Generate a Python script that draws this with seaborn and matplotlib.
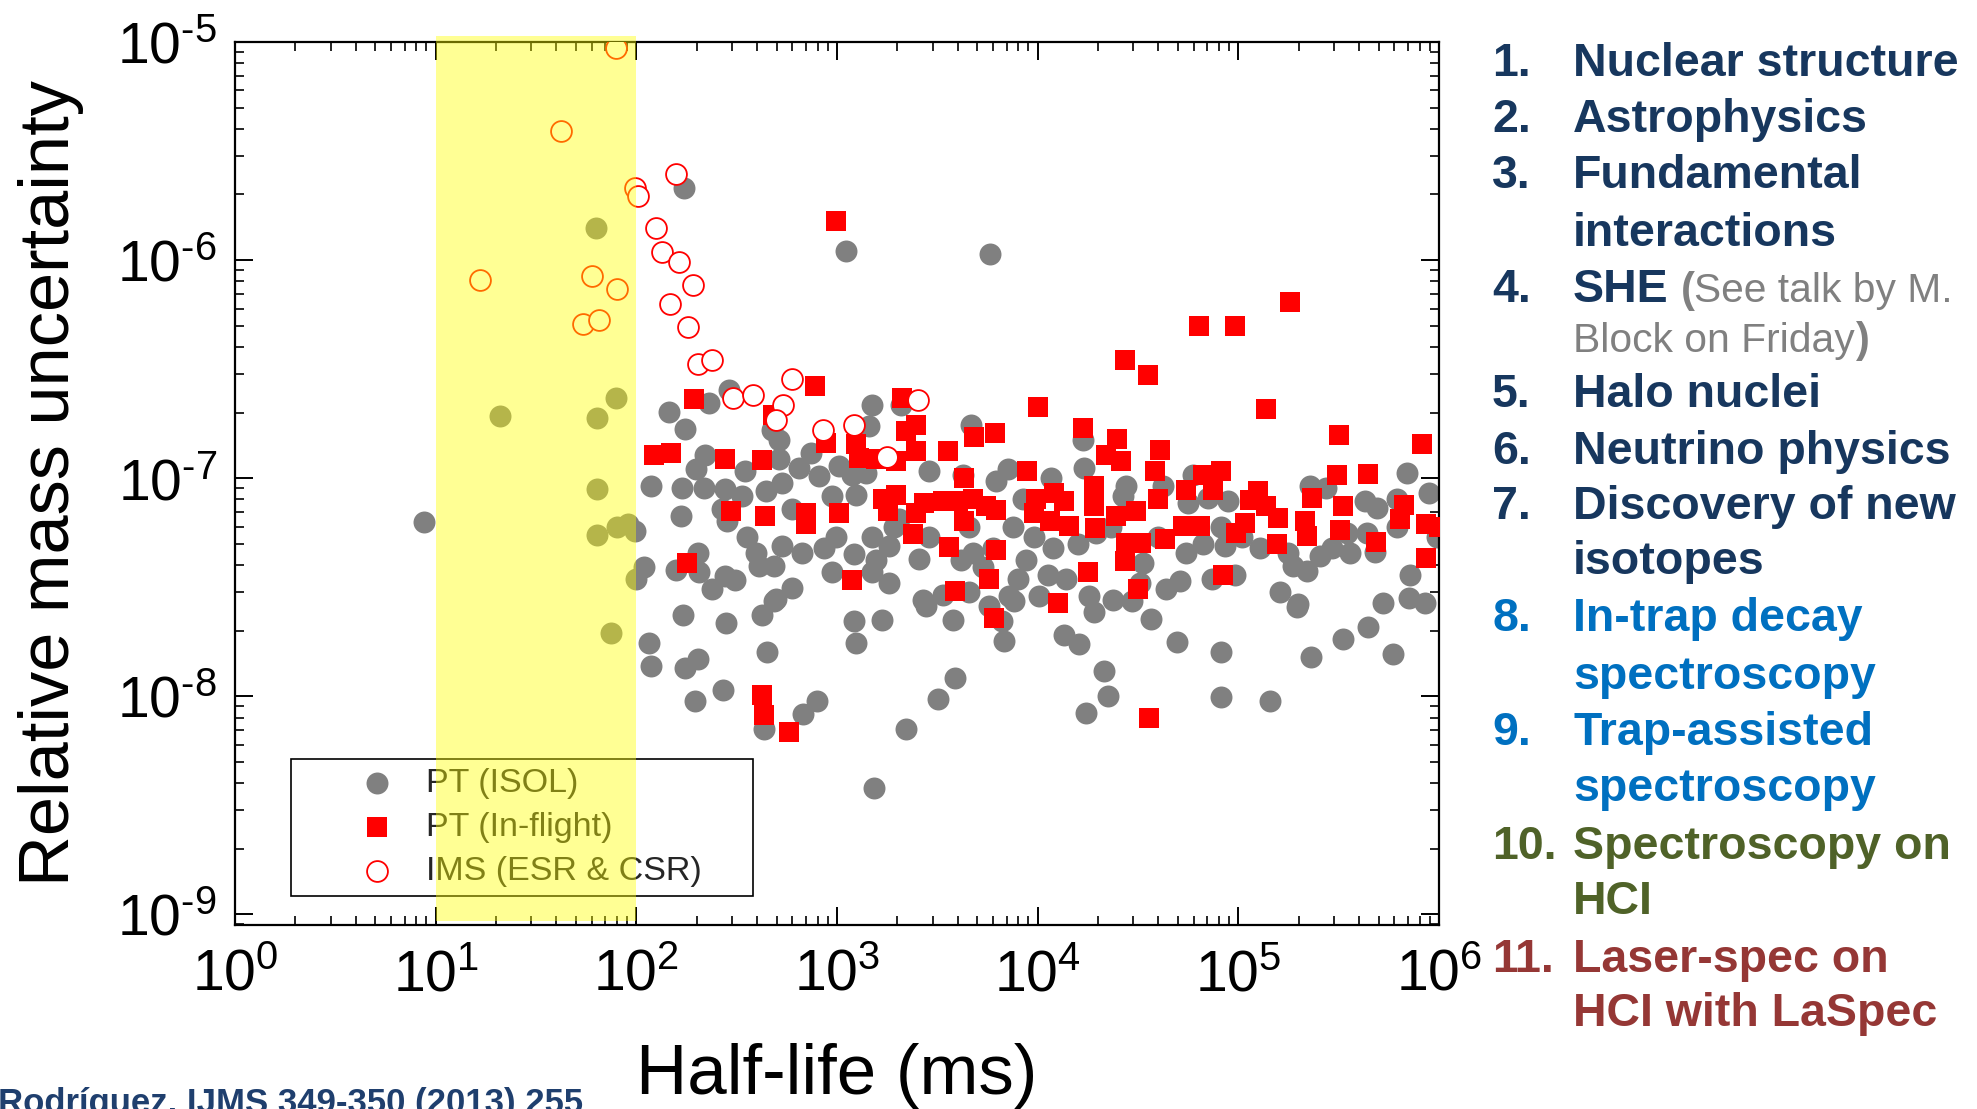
import numpy as np
import pandas as pd
import matplotlib
matplotlib.use("Agg")
import matplotlib.pyplot as plt
import matplotlib.ticker as mticker
import seaborn as sns

# ---- data (half-life in ms, relative mass uncertainty) ----
isol_halflife_ms = [
    8.7, 21, 63, 79, 64, 64, 91, 80, 98, 64, 75, 173, 1110, 5800,
    145, 174, 230, 289, 1500, 1450, 476, 514, 219, 199, 118, 169, 217, 347,
    514, 647, 740, 813, 1020, 1190, 1390, 278, 337, 441, 533, 268, 284, 167,
    598, 948, 1240, 1500, 357, 393, 533, 671, 861, 986, 1220, 1560, 109, 100,
    157, 202, 205, 239, 278, 312, 408, 485, 598, 948, 1500, 1820, 494, 1820,
    1930, 170, 116, 119, 175, 202, 197, 269, 280, 421, 447, 488, 432, 678,
    798, 1220, 1250, 1680, 1530, 2200,
    2080, 4660, 16800, 17100, 2880, 4230, 6190, 7100, 11700, 8430, 27600, 2040,
    2880, 2570, 4560, 4740, 4150, 5320, 5970, 7520, 9640, 11900, 8750, 7960,
    11200, 13900, 15800, 19600, 23300, 26600, 33500, 39800, 32200, 43800,
    18100, 23700, 2670, 3360, 4560, 7230, 10200,
    6.9e5, 8.87e5, 2.28e5, 2.75e5, 4.28e5, 4.89e5, 6.21e5, 6.15e5, 4.37e5,
    3.47e5, 3.61e5, 4.8e5, 2.92e5, 2.55e5, 2.19e5, 1.88e5, 1.77e5, 1.28e5,
    1.04e5, 8.55e4, 8.24e4, 6.67e4, 5.61e4, 5.94e4, 7.06e4, 8.89e4, 4.22e4,
    5.51e4, 5.11e4, 7.35e4, 9.6e4, 1.61e5, 1.99e5, 7.18e5, 7.05e5, 8.53e5,
    5.28e5,
    2770, 3770, 5740, 6620, 6820, 7660, 13600, 16000, 19000, 29600, 36800,
    49500, 3870, 3200, 21500, 22500, 17500,
    8.24e4, 8.18e4, 1.44e5, 1.97e5, 2.30e5, 3.31e5, 4.41e5, 5.89e5, 9.8e5,
]
isol_uncertainty = [
    6.3e-8, 1.92e-7, 1.41e-6, 2.33e-7, 1.89e-7, 8.9e-8, 6.2e-8, 6.0e-8, 5.7e-8, 5.5e-8, 1.95e-8, 2.15e-6, 1.10e-6, 1.07e-6,
    2.01e-7, 1.69e-7, 2.21e-7, 2.55e-7, 2.17e-7, 1.73e-7, 1.67e-7, 1.50e-7, 1.28e-7, 1.10e-7, 9.25e-8, 9.0e-8, 9.0e-8, 1.08e-7,
    1.22e-7, 1.11e-7, 1.31e-7, 1.02e-7, 1.14e-7, 1.04e-7, 1.06e-7, 8.9e-8, 8.3e-8, 8.7e-8, 9.5e-8, 7.2e-8, 6.35e-8, 6.7e-8,
    7.2e-8, 8.3e-8, 8.4e-8, 5.4e-8, 5.4e-8, 4.55e-8, 4.9e-8, 4.55e-8, 4.8e-8, 5.4e-8, 4.5e-8, 4.2e-8, 3.9e-8, 3.45e-8,
    3.8e-8, 4.55e-8, 3.7e-8, 3.1e-8, 3.56e-8, 3.4e-8, 3.96e-8, 3.96e-8, 3.15e-8, 3.7e-8, 3.7e-8, 3.3e-8, 2.8e-8, 4.9e-8,
    6.0e-8, 2.35e-8, 1.76e-8, 1.38e-8, 1.35e-8, 1.48e-8, 9.5e-9, 1.07e-8, 2.17e-8, 2.35e-8, 1.6e-8, 2.73e-8, 7.1e-9, 8.3e-9,
    9.5e-9, 2.21e-8, 1.76e-8, 2.25e-8, 3.8e-9, 7.05e-9,
    2.17e-7, 1.76e-7, 1.50e-7, 1.11e-7, 1.08e-7, 1.04e-7, 9.7e-8, 1.10e-7, 1.00e-7, 8.0e-8, 9.2e-8, 6.5e-8,
    5.4e-8, 4.25e-8, 6.0e-8, 4.55e-8, 4.2e-8, 3.9e-8, 4.8e-8, 6.0e-8, 5.4e-8, 4.8e-8, 4.2e-8, 3.44e-8,
    3.6e-8, 3.44e-8, 5.0e-8, 5.6e-8, 6.0e-8, 8.3e-8, 4.1e-8, 5.4e-8, 3.3e-8, 3.1e-8,
    2.88e-8, 2.78e-8, 2.78e-8, 2.93e-8, 3.0e-8, 2.88e-8, 2.88e-8,
    1.06e-7, 8.6e-8, 9.2e-8, 9.0e-8, 7.85e-8, 7.3e-8, 8.0e-8, 6.0e-8, 5.6e-8,
    5.6e-8, 4.55e-8, 4.6e-8, 4.8e-8, 4.4e-8, 3.75e-8, 3.96e-8, 4.55e-8, 4.8e-8,
    5.4e-8, 4.9e-8, 6.0e-8, 5.0e-8, 7.7e-8, 1.04e-7, 8.1e-8, 7.85e-8, 9.2e-8,
    4.55e-8, 3.37e-8, 3.44e-8, 3.6e-8, 3.0e-8, 2.64e-8, 3.6e-8, 2.83e-8, 2.69e-8,
    2.69e-8,
    2.59e-8, 2.25e-8, 2.59e-8, 2.21e-8, 1.79e-8, 2.73e-8, 1.92e-8, 1.74e-8, 2.44e-8, 2.73e-8, 2.27e-8,
    1.78e-8, 1.21e-8, 9.7e-9, 1.31e-8, 1.0e-8, 8.4e-9,
    1.6e-8, 9.9e-9, 9.5e-9, 2.56e-8, 1.51e-8, 1.84e-8, 2.07e-8, 1.57e-8, 5.4e-8,
]

inflight_halflife_ms = [
    994, 1.81e5, 6.35e4, 9.6e4, 2.71e4, 3.56e4, 780, 1.0e4, 1.38e5, 3.17e5,
    8.2e5, 1.69e4, 2.49e4, 4.08e4, 6100, 4800, 2480, 2120, 3570, 8800,
    193, 122, 149, 278, 425, 482, 885, 1250, 1290, 1560,
    1690, 1790, 298, 437, 698, 698, 1023, 179, 1194,
    2200, 2470, 1960, 4310, 1960, 2720, 3360, 3990, 4740, 5530,
    6210, 2470, 4310, 2400, 3600, 6210, 5740, 3880, 9820, 12100,
    13600, 9640, 11500, 14400, 19000, 19000, 19200, 24700, 31000, 39800,
    27600, 32800, 27100, 17800, 31600, 12600, 43000, 22000, 26100, 38300,
    6.67e4, 8.24e4, 5.51e4, 7.48e4, 1.26e5, 1.14e5, 1.38e5, 1.58e5, 1.08e5, 9.79e4,
    5.30e4, 6.43e4, 1.55e5, 2.15e5, 2.19e5, 2.32e5, 3.09e5, 4.42e5, 3.31e5, 3.21e5,
    4.85e5, 6.73e5, 6.40e5, 8.59e5, 8.59e5, 1.0e6, 8.39e4,
    421, 432, 575, 6080, 35900,
]
inflight_uncertainty = [
    1.51e-6, 6.4e-7, 5.0e-7, 5.0e-7, 3.5e-7, 2.96e-7, 2.64e-7, 2.13e-7, 2.08e-7, 1.58e-7,
    1.43e-7, 1.70e-7, 1.51e-7, 1.35e-7, 1.62e-7, 1.54e-7, 1.76e-7, 2.33e-7, 1.33e-7, 1.08e-7,
    2.32e-7, 1.28e-7, 1.31e-7, 1.23e-7, 1.21e-7, 1.94e-7, 1.45e-7, 1.43e-7, 1.24e-7, 1.22e-7,
    8.0e-8, 7.06e-8, 7.06e-8, 6.74e-8, 6.94e-8, 6.14e-8, 6.94e-8, 4.09e-8, 3.43e-8,
    1.64e-7, 1.33e-7, 1.20e-7, 1.00e-7, 8.4e-8, 7.7e-8, 7.85e-8, 7.85e-8, 8.0e-8, 7.44e-8,
    7.18e-8, 6.94e-8, 6.35e-8, 5.58e-8, 4.84e-8, 4.71e-8, 3.44e-8, 3.03e-8, 8.0e-8, 8.57e-8,
    7.85e-8, 6.94e-8, 6.35e-8, 6.03e-8, 9.2e-8, 7.44e-8, 5.93e-8, 6.7e-8, 7.06e-8, 8.0e-8,
    5.06e-8, 5.06e-8, 4.17e-8, 3.71e-8, 3.09e-8, 2.69e-8, 5.24e-8, 1.28e-7, 1.20e-7, 1.08e-7,
    1.04e-7, 1.08e-7, 8.87e-8, 8.87e-8, 8.71e-8, 7.98e-8, 7.44e-8, 6.58e-8, 6.24e-8, 5.62e-8,
    6.03e-8, 6.03e-8, 4.97e-8, 6.35e-8, 5.42e-8, 8.13e-8, 1.03e-7, 1.05e-7, 7.44e-8, 5.82e-8,
    5.11e-8, 7.5e-8, 6.47e-8, 6.14e-8, 4.32e-8, 6.0e-8, 3.62e-8,
    1.01e-8, 8.2e-9, 6.9e-9, 2.29e-8, 7.93e-9,
]

ims_halflife_ms = [
    79, 42, 157, 99, 102, 126, 135, 164, 16.7, 60, 80, 148, 191, 54.5,
    65, 180, 203, 237, 304, 381, 540, 494, 855, 1216, 1770, 594, 2520,
]
ims_uncertainty = [
    9.4e-6, 3.9e-6, 2.49e-6, 2.15e-6, 1.96e-6, 1.41e-6, 1.09e-6, 9.8e-7, 8.1e-7, 8.5e-7, 7.4e-7, 6.3e-7, 7.7e-7, 5.1e-7,
    5.3e-7, 4.95e-7, 3.35e-7, 3.47e-7, 2.33e-7, 2.42e-7, 2.17e-7, 1.85e-7, 1.67e-7, 1.76e-7, 1.25e-7, 2.85e-7, 2.29e-7,
]

series_labels = ["PT (ISOL)", "PT (In-flight)", "IMS (ESR & CSR)"]

topic_numbers = ["1.", "2.", "3.", "", "4.", "", "5.", "6.", "7.", "",
                 "8.", "", "9.", "", "10.", "", "11.", ""]
topic_lines = ["Nuclear structure", "Astrophysics", "Fundamental", "interactions",
               "SHE", "", "Halo nuclei", "Neutrino physics", "Discovery of new",
               "isotopes", "In-trap decay", "spectroscopy", "Trap-assisted",
               "spectroscopy", "Spectroscopy on", "HCI", "Laser-spec on",
               "HCI with LaSpec"]
NAVY, BLUE, GREEN, BROWN, GREY = "#17375E", "#0070C0", "#4F6228", "#953735", "#808080"
topic_colors = [NAVY] * 10 + [BLUE] * 4 + [GREEN] * 2 + [BROWN] * 2
citation = "Rodríguez, IJMS 349-350 (2013) 255"

W, H = 1977, 1109


def fx(px):
    return px / W


def fy(py):
    return 1 - py / H


def decade_label(v, pos):
    e = int(round(np.log10(v)))
    if e < 0:
        return r"$\mathregular{10^{\text{-}%d}}$" % (-e)
    return r"$\mathregular{10^{%d}}$" % e


sns.set_theme(style="ticks")
plt.rcParams['font.family'] = ['Liberation Sans', 'DejaVu Sans']
plt.rcParams['mathtext.fontset'] = 'custom'
plt.rcParams['mathtext.rm'] = 'Liberation Sans'
plt.rcParams['mathtext.it'] = 'Liberation Sans:italic'
plt.rcParams['mathtext.bf'] = 'Liberation Sans:bold'

isol = pd.DataFrame({"halflife": isol_halflife_ms, "unc": isol_uncertainty})
inflight = pd.DataFrame({"halflife": inflight_halflife_ms, "unc": inflight_uncertainty})
ims = pd.DataFrame({"halflife": ims_halflife_ms, "unc": ims_uncertainty})

fig = plt.figure(figsize=(W / 100, H / 100), dpi=100)
fig.patch.set_facecolor("white")
ax = fig.add_axes([fx(235), fy(925), (1439 - 235) / W, (925 - 42) / H])
ax.set_facecolor("white")

sns.scatterplot(data=isol, x="halflife", y="unc", ax=ax, marker="o", s=250,
                color="#808080", linewidth=0, label=series_labels[0], zorder=2)
sns.scatterplot(data=inflight, x="halflife", y="unc", ax=ax, marker="s", s=205,
                color="#FF0000", linewidth=0, label=series_labels[1], zorder=3)
sns.scatterplot(data=ims, x="halflife", y="unc", ax=ax, marker="o", s=225,
                color="white", edgecolor="#FF0000", linewidth=1.3,
                label=series_labels[2], zorder=4)

ax.set_xscale("log")
ax.set_yscale("log")
ax.set_xlim(1, 1e6)
ax.set_ylim(8.95e-10, 1e-5)

# yellow band over the 10-100 ms region (drawn on top, semi-transparent)
ax.axvspan(10, 100, ymin=0.005, ymax=1.007, color="#FFFF00", alpha=0.42,
           lw=0, zorder=10, clip_on=False)

fmt = mticker.FuncFormatter(decade_label)
ax.xaxis.set_major_formatter(fmt)
ax.yaxis.set_major_formatter(fmt)
ax.xaxis.set_minor_formatter(mticker.NullFormatter())
ax.yaxis.set_minor_formatter(mticker.NullFormatter())
ax.xaxis.set_major_locator(mticker.LogLocator(base=10, numticks=20))
ax.yaxis.set_major_locator(mticker.LogLocator(base=10, numticks=20))
ax.xaxis.set_minor_locator(mticker.LogLocator(base=10, subs=np.arange(2, 10), numticks=20))
ax.yaxis.set_minor_locator(mticker.LogLocator(base=10, subs=np.arange(2, 10), numticks=20))

ax.tick_params(which="both", direction="in", top=True, right=True, colors="black")
ax.tick_params(which="major", length=13, width=1.4, labelsize=41)
ax.tick_params(which="minor", length=6.5, width=1.2)
ax.tick_params(axis="y", which="major", pad=13)
ax.tick_params(axis="x", which="major", pad=17)
for sp in ax.spines.values():
    sp.set_linewidth(1.6)
    sp.set_color("black")

ax.set_xlabel("Half-life (ms)", fontsize=51, color="black")
ax.set_ylabel("Relative mass uncertainty", fontsize=50.7, color="black")
ax.xaxis.set_label_coords(0.5, -0.134)
ax.yaxis.set_label_coords(-0.125, 0.5)

leg = ax.legend(loc="lower left", bbox_to_anchor=(0.0465, 0.0328, 0.384, 0.16),
                mode="expand", fontsize=24.5, frameon=True, fancybox=False,
                edgecolor="black", facecolor="white", framealpha=1,
                borderpad=0.28, handlelength=4.5, handletextpad=-0.8,
                labelspacing=0.37, borderaxespad=0)
leg.get_frame().set_linewidth(1.2)

# topic list on the right
baselines = [75.7, 132, 188, 245.6, 301.7, 351.6, 407, 464, 519, 574.5,
             631, 689, 745, 801, 859, 914, 972, 1026]
for num, line, col, yb in zip(topic_numbers, topic_lines, topic_colors, baselines):
    if num:
        fig.text(fx(1492), fy(yb), num, fontsize=33.5, fontweight="bold",
                 color=col, ha="left", va="baseline")
    if line:
        fig.text(fx(1573), fy(yb), line, fontsize=33.5, fontweight="bold",
                 color=col, ha="left", va="baseline")

fig.text(fx(1681), fy(301.7), "(", fontsize=30, fontweight="bold", color=GREY,
         ha="left", va="baseline")
fig.text(fx(1694), fy(301.7), "See talk by M.", fontsize=29.3, color=GREY,
         ha="left", va="baseline")
fig.text(fx(1573), fy(351.6), "Block on Friday", fontsize=29.3, color=GREY,
         ha="left", va="baseline")
fig.text(fx(1856), fy(351.6), ")", fontsize=30, fontweight="bold", color=GREY,
         ha="left", va="baseline")

fig.text(fx(-2), fy(1113), citation, fontsize=25, fontweight="bold",
         color="#1F3F6E", ha="left", va="baseline")

fig.savefig("out.png", dpi=100)
